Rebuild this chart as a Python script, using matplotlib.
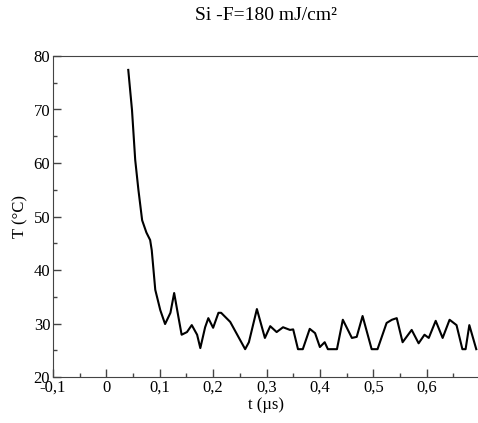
import matplotlib
matplotlib.use("Agg")
import matplotlib.pyplot as plt
from matplotlib.ticker import FixedLocator, MultipleLocator

t_us = [0.041, 0.048, 0.054, 0.060, 0.067, 0.075, 0.082, 0.085, 0.0916, 0.101,
        0.110, 0.120, 0.127, 0.135, 0.141, 0.151, 0.160, 0.170, 0.176, 0.185,
        0.191, 0.200, 0.210, 0.215, 0.232, 0.260, 0.267, 0.282, 0.297, 0.307,
        0.319, 0.331, 0.344, 0.350, 0.359, 0.368, 0.381, 0.391, 0.400, 0.409,
        0.415, 0.432, 0.443, 0.460, 0.469, 0.480, 0.497, 0.508, 0.525, 0.535,
        0.544, 0.555, 0.572, 0.585, 0.596, 0.604, 0.617, 0.630, 0.643, 0.656,
        0.667, 0.673, 0.680, 0.693]
temp_c = [77.4, 69.9, 60.6, 55.0, 49.3, 47.0, 45.6, 43.7, 36.3, 32.5,
          29.9, 32.0, 35.7, 31.2, 27.9, 28.4, 29.7, 27.9, 25.4, 29.3,
          31.0, 29.2, 32.0, 32.0, 30.3, 25.2, 26.5, 32.7, 27.3, 29.5,
          28.4, 29.3, 28.8, 28.9, 25.2, 25.2, 29.0, 28.2, 25.6, 26.5,
          25.2, 25.2, 30.7, 27.3, 27.5, 31.4, 25.2, 25.2, 30.1, 30.7,
          31.0, 26.5, 28.8, 26.3, 27.9, 27.3, 30.5, 27.3, 30.7, 29.7,
          25.2, 25.2, 29.7, 25.2]

x_ticks = [-0.1, 0.0, 0.1, 0.2, 0.3, 0.4, 0.5, 0.6]
x_labels = ["-0,1", "0", "0,1", "0,2", "0,3", "0,4", "0,5", "0,6"]
y_ticks = [20, 30, 40, 50, 60, 70, 80]
y_labels = ["20", "30", "40", "50", "60", "70", "80"]

plt.rcParams['font.family'] = ['Liberation Serif', 'DejaVu Serif']

fig = plt.figure(figsize=(4.78, 4.23), dpi=100)
ax = fig.add_axes([53/478, (423-377)/423, (480-53)/478, (377-56)/423])
ax.plot(t_us, temp_c, color='black', lw=1.5, solid_joinstyle='round')
ax.set_xlim(-0.1, 0.7)
ax.set_ylim(20, 80)
ax.xaxis.set_major_locator(FixedLocator(x_ticks))
ax.set_xticklabels(x_labels)
ax.xaxis.set_minor_locator(MultipleLocator(0.05))
ax.yaxis.set_major_locator(FixedLocator(y_ticks))
ax.set_yticklabels(y_labels)
ax.yaxis.set_minor_locator(MultipleLocator(5))
ax.tick_params(which='major', direction='in', length=6, width=1, color='#444444',
               labelsize=12, pad=2)
ax.tick_params(which='minor', direction='in', length=3, width=1, color='#444444')
for s in ax.spines.values():
    s.set_color('#444444')
ax.set_xlabel("t (µs)", fontsize=12, labelpad=1)
ax.set_ylabel("T (°C)", fontsize=12, labelpad=4)
fig.text(266/478, 1 - 16/423, "Si -F=180 mJ/cm²", fontsize=14, ha='center', va='center')
fig.savefig("out.png", dpi=100)
